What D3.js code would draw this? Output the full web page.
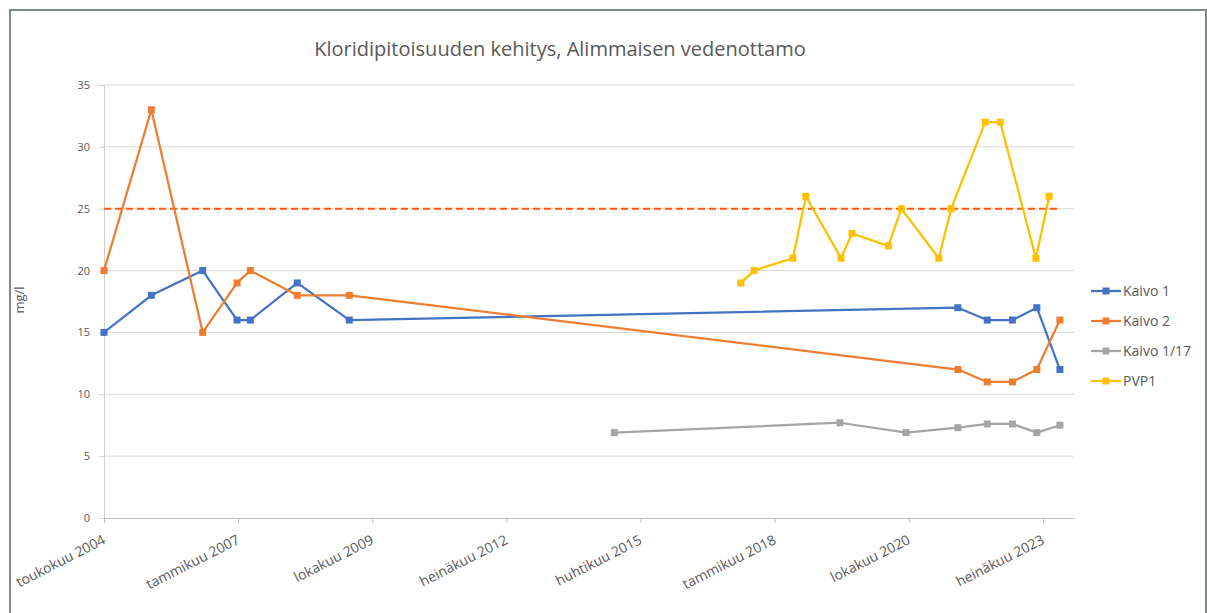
<!DOCTYPE html>
<html>
<head>
<meta charset="utf-8">
<script src="https://cdn.jsdelivr.net/npm/d3@7"></script>
<style>
  body { margin: 0; background: #fff; }
  text { font-family: "Open Sans", sans-serif; fill: #595959; }
</style>
</head>
<body>
<div id="chart"></div>
<script>
var width = 1207,
    height = 613

// data
var kaivo1Dates = ["2004-05-01","2005-04-19","2006-05-07","2007-01-18","2007-04-27","2008-04-11","2009-05-04",
                   "2021-10-05","2022-05-12","2022-11-16","2023-05-17","2023-11-05"];
var kaivo1Values = [15, 18, 20, 16, 16, 19, 16, 17, 16, 16, 17, 12];

var kaivo2Dates = ["2004-05-01","2005-04-19","2006-05-07","2007-01-18","2007-04-27","2008-04-11","2009-05-04",
                   "2021-10-05","2022-05-12","2022-11-16","2023-05-17","2023-11-05"];
var kaivo2Values = [20, 33, 15, 19, 20, 18, 18, 12, 11, 11, 12, 16];

var kaivo117Dates = ["2014-10-01","2019-05-10","2020-09-14","2021-10-05","2022-05-12","2022-11-16","2023-05-17","2023-11-05"];
var kaivo117Values = [6.9, 7.7, 6.9, 7.3, 7.6, 7.6, 6.9, 7.5];

var pvp1Dates = ["2017-05-01","2017-08-08","2018-05-24","2018-08-29","2019-05-18","2019-08-08","2020-05-05",
                 "2020-08-10","2021-05-16","2021-08-16","2022-04-27","2022-08-17","2023-05-10","2023-08-17"];
var pvp1Values = [19, 20, 21, 26, 21, 23, 22, 25, 21, 25, 32, 32, 21, 26];

var limitDates = ["2004-05-01", "2023-10-23"];
var limitValue = 25;

var seriesNames = ["Kaivo 1", "Kaivo 2", "Kaivo 1/17", "PVP1"];
var seriesColors = ["#4472C4", "#ED7D31", "#A5A5A5", "#FFC000"];

var tickDates = ["2004-05-01","2007-01-26","2009-10-22","2012-07-18","2015-04-14","2018-01-08","2020-10-04","2023-07-01"];
var tickLabels = ["toukokuu 2004","tammikuu 2007","lokakuu 2009","heinäkuu 2012",
                  "huhtikuu 2015","tammikuu 2018","lokakuu 2020","heinäkuu 2023"];
var yTicks = [0, 5, 10, 15, 20, 25, 30, 35];

var parse = d3.timeParse("%Y-%m-%d");
var margin = ({top: 85, right: 133, bottom: 95, left: 104});

var svg = d3.select("#chart").append("svg")
    .attr("width", width)
    .attr("height", height);

// outer frame
svg.append("rect")
    .attr("x", 10)
    .attr("y", 10)
    .attr("width", 1196)
    .attr("height", 620)
    .attr("fill", "none")
    .attr("stroke", "#7f8a8f")
    .attr("stroke-width", 2);

var x = d3.scaleTime()
    .domain([parse("2004-05-01"), parse("2024-02-18")])
    .range([margin.left, width - margin.right]);

var y = d3.scaleLinear()
    .domain([0, 35])
    .range([height - margin.bottom, margin.top]);

// gridlines
svg.append("g")
  .selectAll("line")
  .data(yTicks.slice(1))
  .join("line")
    .attr("x1", margin.left)
    .attr("x2", width - margin.right)
    .attr("y1", d => y(d))
    .attr("y2", d => y(d))
    .attr("stroke", "#d9d9d9")
    .attr("stroke-width", 1);

var yAxis = g => g
    .attr("transform", `translate(${margin.left},0)`)
    .call(d3.axisLeft(y).tickValues(yTicks).tickSize(5).tickPadding(9))
    .call(g => g.select(".domain").attr("stroke", "#d0d0d0"))
    .call(g => g.selectAll(".tick line").attr("stroke", "#d0d0d0"))
    .call(g => g.selectAll(".tick text").style("font-size", "11px").attr("fill", "#595959"));

var xAxis = g => g
    .attr("transform", `translate(0,${height - margin.bottom})`)
    .call(d3.axisBottom(x).tickValues(tickDates.map(parse)).tickSize(5).tickSizeOuter(0)
        .tickFormat((d, i) => tickLabels[i]))
    .call(g => g.select(".domain").attr("stroke", "#bfbfbf"))
    .call(g => g.selectAll(".tick line").attr("stroke", "#bfbfbf"))
    .call(g => g.selectAll(".tick text")
        .style("font-size", "14px")
        .attr("fill", "#595959")
        .attr("text-anchor", "end")
        .attr("dy", null)
        .attr("y", 0)
        .attr("transform", "translate(2,25) rotate(-27)"));

svg.append("g").call(yAxis);
svg.append("g").call(xAxis);

// limit line
svg.append("line")
    .attr("x1", x(parse(limitDates[0])))
    .attr("x2", x(parse(limitDates[1])))
    .attr("y1", y(limitValue))
    .attr("y2", y(limitValue))
    .attr("stroke", "#FF5A0A")
    .attr("stroke-width", 2)
    .attr("stroke-dasharray", "7,4");

var allSeries = [
  {dates: kaivo1Dates, values: kaivo1Values},
  {dates: kaivo2Dates, values: kaivo2Values},
  {dates: kaivo117Dates, values: kaivo117Values},
  {dates: pvp1Dates, values: pvp1Values}
];

var line = d3.line()
    .x(d => x(d.date))
    .y(d => y(d.value));

allSeries.forEach(function(s, i) {
  var pts = s.dates.map((d, j) => ({date: parse(d), value: s.values[j]}));
  var g = svg.append("g");
  g.append("path")
      .datum(pts)
      .attr("fill", "none")
      .attr("stroke", seriesColors[i])
      .attr("stroke-width", 2.25)
      .attr("stroke-linejoin", "round")
      .attr("d", line);
  g.selectAll("rect")
    .data(pts)
    .join("rect")
      .attr("x", d => x(d.date) - 3.5)
      .attr("y", d => y(d.value) - 3.5)
      .attr("width", 7)
      .attr("height", 7)
      .attr("fill", seriesColors[i]);
});

// title
svg.append("text")
    .attr("x", 560)
    .attr("y", 56)
    .attr("text-anchor", "middle")
    .style("font-size", "20px")
    .text("Kloridipitoisuuden kehitys, Alimmaisen vedenottamo");

// y axis title
svg.append("text")
    .attr("transform", "translate(24,300) rotate(-90)")
    .attr("text-anchor", "middle")
    .style("font-size", "13px")
    .text("mg/l");

// legend
var legend = svg.append("g")
  .selectAll("g")
  .data(seriesNames)
  .join("g")
    .attr("transform", (d, i) => `translate(1091,${291 + i * 30})`);

legend.append("line")
    .attr("x1", 0)
    .attr("x2", 30)
    .attr("stroke", (d, i) => seriesColors[i])
    .attr("stroke-width", 2.25);

legend.append("rect")
    .attr("x", 11.5)
    .attr("y", -3.5)
    .attr("width", 7)
    .attr("height", 7)
    .attr("fill", (d, i) => seriesColors[i]);

legend.append("text")
    .attr("x", 32)
    .attr("dy", "0.35em")
    .style("font-size", "14px")
    .text(d => d);
</script>
</body>
</html>
